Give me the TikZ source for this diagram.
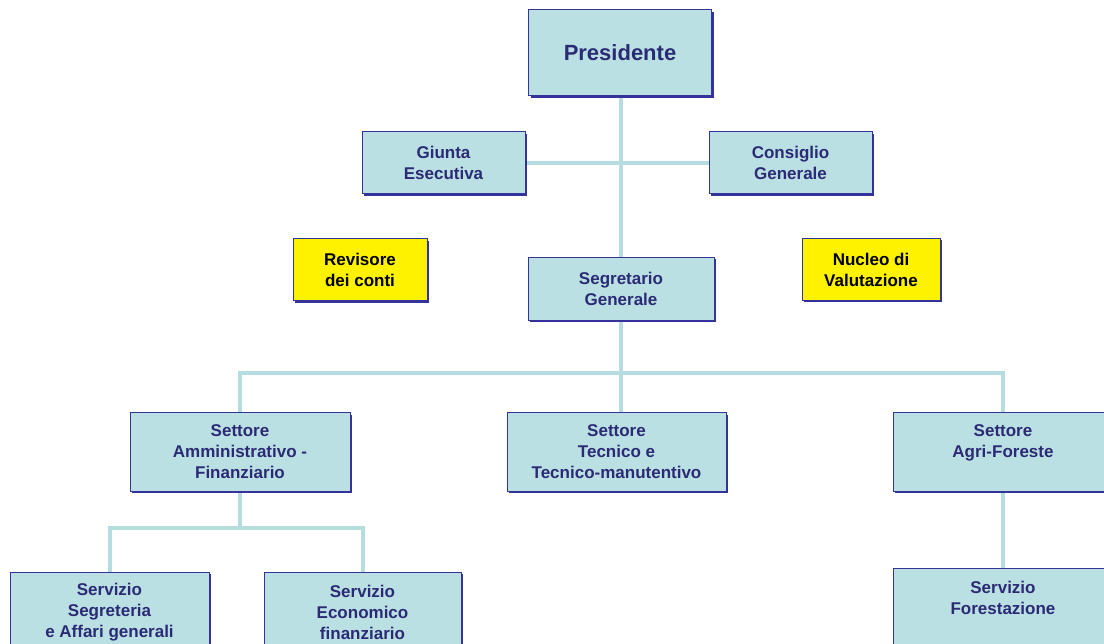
\documentclass[tikz,border=0pt]{standalone}
\usepackage{fontspec}
\setmainfont{Liberation Sans}
\usetikzlibrary{shadows,backgrounds}
\definecolor{boxfill}{HTML}{BBE0E3}
\definecolor{linecol}{HTML}{B5DDE0}
\definecolor{boxline}{HTML}{33339A}
\definecolor{txt}{HTML}{2B2B75}
\begin{document}
\begin{tikzpicture}[x=1pt,y=-1pt,
  box/.style={draw=boxline, line width=1pt, fill=boxfill, text=txt,
    font=\bfseries\fontsize{17}{21}\selectfont, align=center, inner sep=0pt,
    drop shadow={shadow xshift=2pt, shadow yshift=-2pt, fill=boxline, opacity=1}},
  ybox/.style={box, fill=yellow, text=black},
  conn/.style={draw=linecol, line width=4pt}]
\useasboundingbox (0,0) rectangle (1104,644);
\begin{scope}
\clip (0,0) rectangle (1104,644);
\node[box, minimum width=183pt, minimum height=86pt, font=\bfseries\fontsize{22}{26}\selectfont] (pres) at (620,53) {Presidente};
\node[box, minimum width=163pt, minimum height=62pt] (giunta) at (443.5,163) {Giunta\\Esecutiva};
\node[box, minimum width=163pt, minimum height=62pt] (cons) at (790.5,163) {Consiglio\\Generale};
\node[ybox, minimum width=134pt, minimum height=62pt] (rev) at (360,270) {Revisore\\dei conti};
\node[ybox, minimum width=138pt, minimum height=62pt] (nuc) at (871,269.5) {Nucleo di\\Valutazione};
\node[box, minimum width=186pt, minimum height=63pt] (seg) at (621,289) {Segretario\\Generale};
\node[box, minimum width=220pt, minimum height=78pt] (sam) at (240,452) {Settore\\Amministrativo -\\Finanziario};
\node[box, minimum width=219pt, minimum height=78pt] (stec) at (616.5,452) {Settore\\Tecnico e\\Tecnico-manutentivo};
\node[box, minimum width=220pt, minimum height=78pt] (sagr) at (1003,452) {Settore\\Agri-Foreste\\\mbox{}};
\node[box, minimum width=199pt, minimum height=80pt] (sseg) at (109.5,612) {Servizio\\Segreteria\\e Affari generali};
\node[box, minimum width=197pt, minimum height=80pt] (seco) at (362.5,612) {Servizio\\Economico\\finanziario};
\node[box, minimum width=220pt, minimum height=80pt] (sfor) at (1003,608) {Servizio\\Forestazione\\\mbox{}};
\end{scope}
\begin{scope}[on background layer]
\coordinate (bus) at (621,373);
\coordinate (sub) at (240,528);
\draw[conn] (pres.south -| seg.north) -- (seg.north);
\draw[conn] (giunta.east) -- (cons.west);
\draw[conn] (seg.south) -- (seg.south |- stec.north);
\draw[conn] (sam.north) -- (sam.north |- bus) -| (sagr.north);
\draw[conn] (sam.south) -- (sub);
\draw[conn] (sseg.north) |- (sub) -| (seco.north);
\draw[conn] (sagr.south) -- (sfor.north);
\end{scope}
\end{tikzpicture}
\end{document}
